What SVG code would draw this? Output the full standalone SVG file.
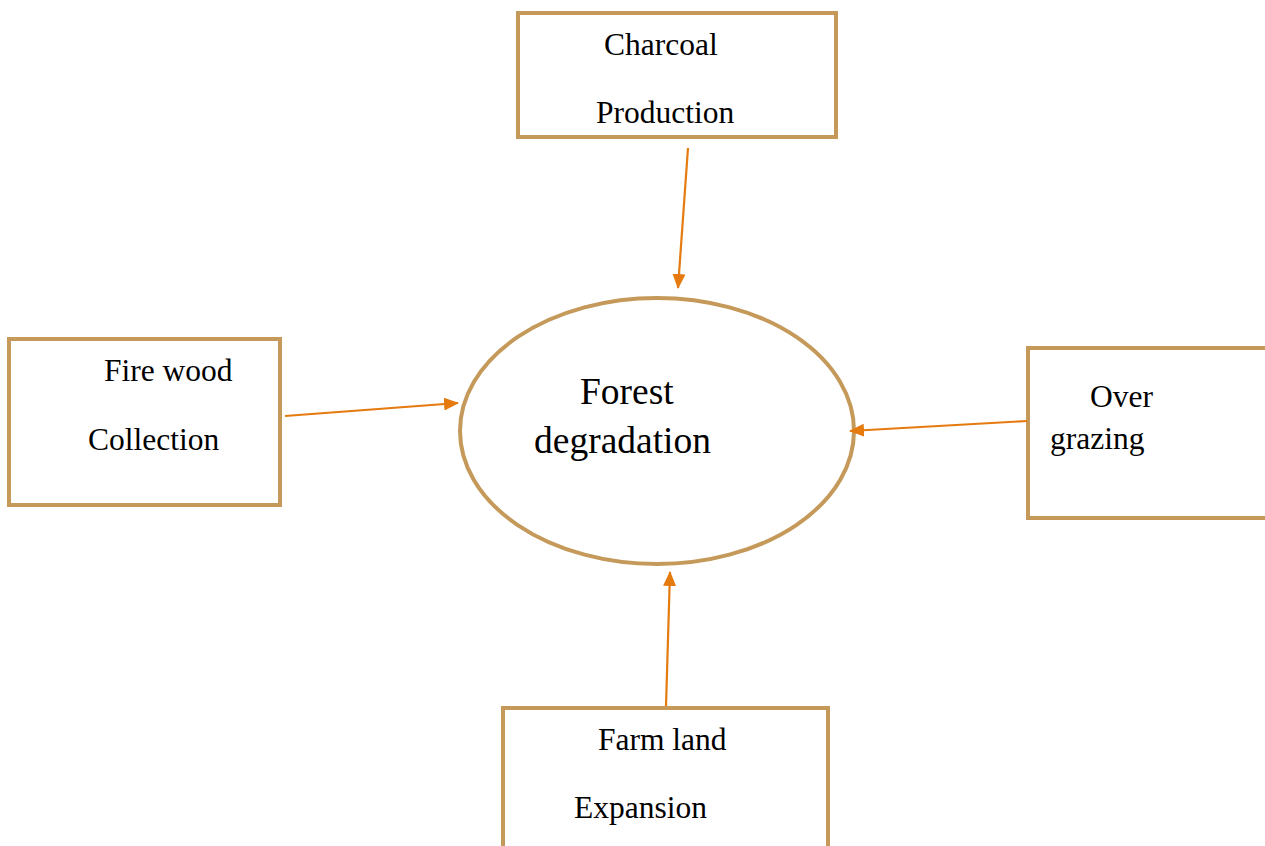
<svg xmlns="http://www.w3.org/2000/svg" width="1265" height="846" viewBox="0 0 1265 846">
<style>
.box{fill:#fff;stroke:#C4995A;stroke-width:4}
.lbl{font-family:"Liberation Serif","Times New Roman",serif;font-size:31.5px;fill:#000}
.big{font-family:"Liberation Serif","Times New Roman",serif;font-size:37.5px;fill:#000}
.conn{stroke:#E57A0F;stroke-width:2.2;fill:none;marker-end:url(#ah)}
</style>
<defs>
<marker id="ah" markerWidth="15" markerHeight="13" refX="14" refY="6.5" orient="auto" markerUnits="userSpaceOnUse" viewBox="0 0 15 13">
<path d="M0,0 L15,6.5 L0,13 z" fill="#E57A0F"/>
</marker>
</defs>
<rect width="1265" height="846" fill="#fff"/>
<g id="charcoal">
<rect class="box" x="518" y="13" width="318" height="124"/>
<text class="lbl" x="604" y="55">Charcoal</text>
<text class="lbl" x="596" y="123">Production</text>
</g>
<g id="firewood">
<rect class="box" x="9" y="339" width="271" height="166"/>
<text class="lbl" x="104" y="381">Fire wood</text>
<text class="lbl" x="88" y="450">Collection</text>
</g>
<g id="overgrazing">
<rect class="box" x="1028" y="348" width="245" height="170"/>
<text class="lbl" x="1090" y="407">Over</text>
<text class="lbl" x="1050" y="449">grazing</text>
</g>
<g id="farmland">
<rect class="box" x="503" y="708" width="325" height="150"/>
<text class="lbl" x="598" y="750">Farm land</text>
<text class="lbl" x="574" y="818">Expansion</text>
</g>
<g id="forest">
<ellipse cx="657" cy="431" rx="197" ry="133" fill="#fff" stroke="#C4995A" stroke-width="4"/>
<text class="big" x="580" y="404">Forest</text>
<text class="big" x="534" y="453">degradation</text>
</g>
<g id="connectors">
<line class="conn" x1="688" y1="148" x2="678" y2="288"/>
<line class="conn" x1="285" y1="416" x2="458" y2="403"/>
<line class="conn" x1="1027" y1="421" x2="850" y2="431"/>
<line class="conn" x1="666" y1="706" x2="670" y2="572"/>
</g>
</svg>
